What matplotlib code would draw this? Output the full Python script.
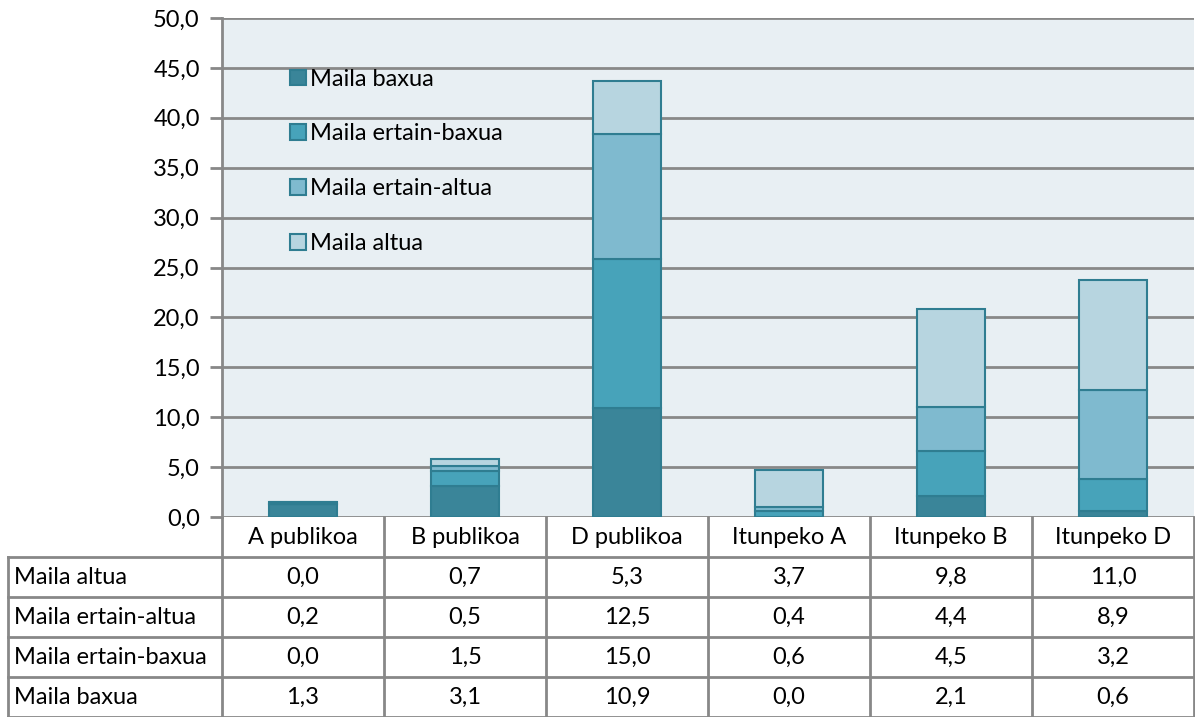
import matplotlib
matplotlib.use("Agg")
from matplotlib import pyplot as plt
from matplotlib.patches import Patch
import numpy as np

plt.rcParams["font.family"] = ["Lato", "DejaVu Sans"]

categories = ["A publikoa", "B publikoa", "D publikoa", "Itunpeko A", "Itunpeko B", "Itunpeko D"]
series = ["Maila baxua", "Maila ertain-baxua", "Maila ertain-altua", "Maila altua"]
baxua = [1.3, 3.1, 10.9, 0.0, 2.1, 0.6]
ertain_baxua = [0.0, 1.5, 15.0, 0.6, 4.5, 3.2]
ertain_altua = [0.2, 0.5, 12.5, 0.4, 4.4, 8.9]
altua = [0.0, 0.7, 5.3, 3.7, 9.8, 11.0]
yticks = [0, 5, 10, 15, 20, 25, 30, 35, 40, 45, 50]

colors = ["#3A8599", "#47A3BA", "#7FBACF", "#B7D5E0"]
edge = "#2F7D91"
grid = "#888888"
fs = 17

W, H = 1195, 717
fig = plt.figure(figsize=(W / 100, H / 100), dpi=100)
left, right, top, bottom = 222, 1194, 18, 517
ax = fig.add_axes([left / W, 1 - bottom / H, (right - left) / W, (bottom - top) / H])
ax.set_facecolor("#E8EFF3")

x = np.arange(len(categories))
data = [baxua, ertain_baxua, ertain_altua, altua]
base = np.zeros(len(categories))
for name, vals, c in zip(series, data, colors):
    ax.bar(x, vals, 0.42, bottom=base, color=c, edgecolor=edge, linewidth=1.5, label=name, zorder=3)
    base += np.array(vals)

ax.set_xlim(-0.5, 5.5)
ax.set_ylim(0, 50)
ax.set_yticks(yticks)
ax.set_yticklabels([f"{v:.1f}".replace(".", ",") for v in yticks], fontsize=fs)
ax.set_xticks([])
ax.yaxis.grid(True, color=grid, linewidth=2, zorder=0)
ax.tick_params(axis="y", length=9, width=2, color=grid, pad=7)
for s in ["top", "right", "bottom"]:
    ax.spines[s].set_visible(False)
ax.spines["left"].set_color(grid)
ax.spines["left"].set_linewidth(2)

handles = [Patch(facecolor=c, edgecolor=edge, linewidth=1.5) for c in colors]
ax.legend(handles, series, loc="upper left", bbox_to_anchor=(0.058, 0.922), frameon=False,
          fontsize=fs, labelspacing=1.43, handlelength=0.65, handleheight=0.65,
          handletextpad=0.2, borderpad=0)

# data table
tab = fig.add_axes([left / W, 0, (right - left) / W, (H - bottom) / H])
tab.set_xlim(-0.5, 5.5)
tab.set_ylim(5, 0)
tab.axis("off")
row_left = -0.5 - (left - 8) / ((right - left) / 6)
lw = 2
for i in range(5):
    tab.plot([row_left, 5.5], [i + 1, i + 1], color=grid, lw=lw, clip_on=False)
tab.plot([row_left, row_left], [1, 5], color=grid, lw=lw, clip_on=False)
for k in range(7):
    tab.plot([k - 0.5, k - 0.5], [0, 5], color=grid, lw=lw, clip_on=False)

for j, cat in enumerate(categories):
    tab.text(j, 0.5, cat, ha="center", va="center", fontsize=fs)
table_rows = [("Maila altua", altua), ("Maila ertain-altua", ertain_altua),
              ("Maila ertain-baxua", ertain_baxua), ("Maila baxua", baxua)]
for i, (name, vals) in enumerate(table_rows):
    tab.text(row_left + 0.04, i + 1.5, name, ha="left", va="center", fontsize=fs, clip_on=False)
    for j, v in enumerate(vals):
        tab.text(j, i + 1.5, f"{v:.1f}".replace(".", ","), ha="center", va="center", fontsize=fs)

fig.savefig("out.png", dpi=100)
